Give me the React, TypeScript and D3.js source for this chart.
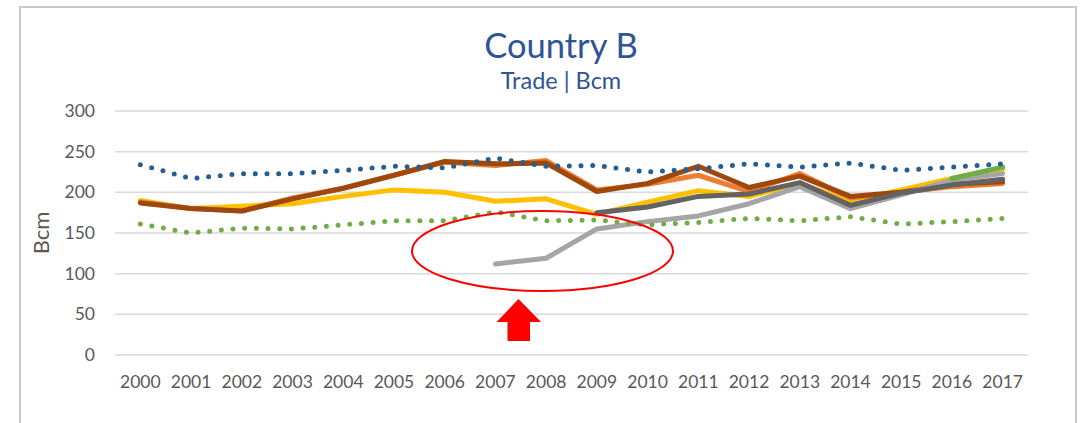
import { useEffect, useRef } from 'react';
import * as d3 from 'd3';

const years = ['2000', '2001', '2002', '2003', '2004', '2005', '2006', '2007', '2008', '2009', '2010', '2011', '2012', '2013', '2014', '2015', '2016', '2017'];
const yTicks = [0, 50, 100, 150, 200, 250, 300];

type V = number | null;
const blueDotted: V[] = [234, 217, 223, 223, 227, 232, 230, 242, 232, 233, 225, 229, 235, 231, 236, 227, 231, 235];
const greenDotted: V[] = [161, 150, 156, 155, 160, 165, 165, 176, 165, 166, 160, 163, 168, 165, 170, 161, 164, 168];
const yellow: V[] = [190, 180, 183, 186, 195, 203, 200, 189, 192, 173, 188, 202, 195, 211, 189, 203, 217, 229];
const orange: V[] = [188, 180, 177, 193, 205, 221, 237, 233, 239, 203, 210, 221, 201, 223, 193, 200, 207, 211];
const brown: V[] = [187, 180, 177, 192, 205, 221, 238, 235, 236, 201, 211, 232, 206, 220, 195, 200, 210, 213];
const lightGray: V[] = [null, null, null, null, null, null, null, 112, 119, 155, 164, 171, 186, 207, 180, 197, 215, 223];
const darkGray: V[] = [null, null, null, null, null, null, null, null, null, 175, 182, 195, 198, 212, 184, 199, 209, 216];
const greenSolid: V[] = [null, null, null, null, null, null, null, null, null, null, null, null, null, null, null, null, 217, 231];

const FONT = 'Lato, "Open Sans", sans-serif';

export default function App() {
  const ref = useRef<SVGSVGElement | null>(null);
  const width = 1084;
  const height = 423;

  useEffect(() => {
    const svg = d3.select(ref.current);
    svg.selectAll('*').remove();

    const x = d3.scaleBand<string>().domain(years).range([115, 1028]);
    const y = d3.scaleLinear().domain([0, 300]).range([355, 111]);

    // frame
    svg
      .append('rect')
      .attr('x', 20)
      .attr('y', 7)
      .attr('width', 1056)
      .attr('height', 430)
      .attr('fill', '#fff')
      .attr('stroke', '#C9C9C9')
      .attr('stroke-width', 2);

    svg
      .append('text')
      .attr('x', 561)
      .attr('y', 58)
      .attr('text-anchor', 'middle')
      .attr('font-family', FONT)
      .attr('font-size', 34.5)
      .attr('fill', '#2F5496')
      .text('Country B');

    svg
      .append('text')
      .attr('x', 561)
      .attr('y', 89)
      .attr('text-anchor', 'middle')
      .attr('font-family', FONT)
      .attr('font-size', 23.5)
      .attr('fill', '#2F5496')
      .text('Trade | Bcm');

    // grid
    svg
      .append('g')
      .selectAll('line')
      .data(yTicks)
      .enter()
      .append('line')
      .attr('x1', 115)
      .attr('x2', 1028)
      .attr('y1', d => y(d))
      .attr('y2', d => y(d))
      .attr('stroke', '#D9D9D9')
      .attr('stroke-width', 1.5);

    svg
      .append('g')
      .selectAll('text')
      .data(yTicks)
      .enter()
      .append('text')
      .attr('x', 95)
      .attr('y', d => y(d))
      .attr('dy', '0.35em')
      .attr('text-anchor', 'end')
      .attr('font-family', FONT)
      .attr('font-size', 17.5)
      .attr('fill', '#595959')
      .text(d => d);

    svg
      .append('g')
      .selectAll('text')
      .data(years)
      .enter()
      .append('text')
      .attr('x', d => (x(d) ?? 0) + x.bandwidth() / 2)
      .attr('y', 382)
      .attr('dy', '0.35em')
      .attr('text-anchor', 'middle')
      .attr('font-family', FONT)
      .attr('font-size', 17.5)
      .attr('fill', '#595959')
      .text(d => d);

    svg
      .append('text')
      .attr('transform', 'translate(41, 233) rotate(-90)')
      .attr('text-anchor', 'middle')
      .attr('dy', '0.35em')
      .attr('font-family', FONT)
      .attr('font-size', 22)
      .attr('fill', '#595959')
      .text('Bcm');

    const line = d3
      .line<V>()
      .defined(d => d !== null)
      .x((_, i) => (x(years[i]) ?? 0) + x.bandwidth() / 2)
      .y(d => y(d as number));

    const series: { data: V[]; color: string; dotted?: boolean }[] = [
      { data: yellow, color: '#FFC000' },
      { data: orange, color: '#ED7D31' },
      { data: brown, color: '#9E480E' },
      { data: lightGray, color: '#A5A5A5' },
      { data: darkGray, color: '#636363' },
      { data: greenSolid, color: '#70AD47' },
      { data: blueDotted, color: '#255E91', dotted: true },
      { data: greenDotted, color: '#70AD47', dotted: true },
    ];

    svg
      .append('g')
      .selectAll('path')
      .data(series)
      .enter()
      .append('path')
      .attr('d', d => line(d.data))
      .attr('fill', 'none')
      .attr('stroke', d => d.color)
      .attr('stroke-width', 5)
      .attr('stroke-linejoin', 'round')
      .attr('stroke-linecap', 'round')
      .attr('stroke-dasharray', d => (d.dotted ? '0 11.7' : null));

    // annotation
    svg
      .append('ellipse')
      .attr('cx', 542.5)
      .attr('cy', 251)
      .attr('rx', 130.5)
      .attr('ry', 40)
      .attr('fill', 'none')
      .attr('stroke', '#FF0000')
      .attr('stroke-width', 2);

    svg
      .append('path')
      .attr('d', 'M518.5,299 L541,322 L530,322 L530,341 L507.5,341 L507.5,322 L496.5,322 Z')
      .attr('fill', '#FF0000');
  }, []);

  return (
    <svg
      ref={ref}
      width={width}
      height={height}
      style={{ position: 'absolute', left: 0, top: 0 }}
    ></svg>
  );
}
